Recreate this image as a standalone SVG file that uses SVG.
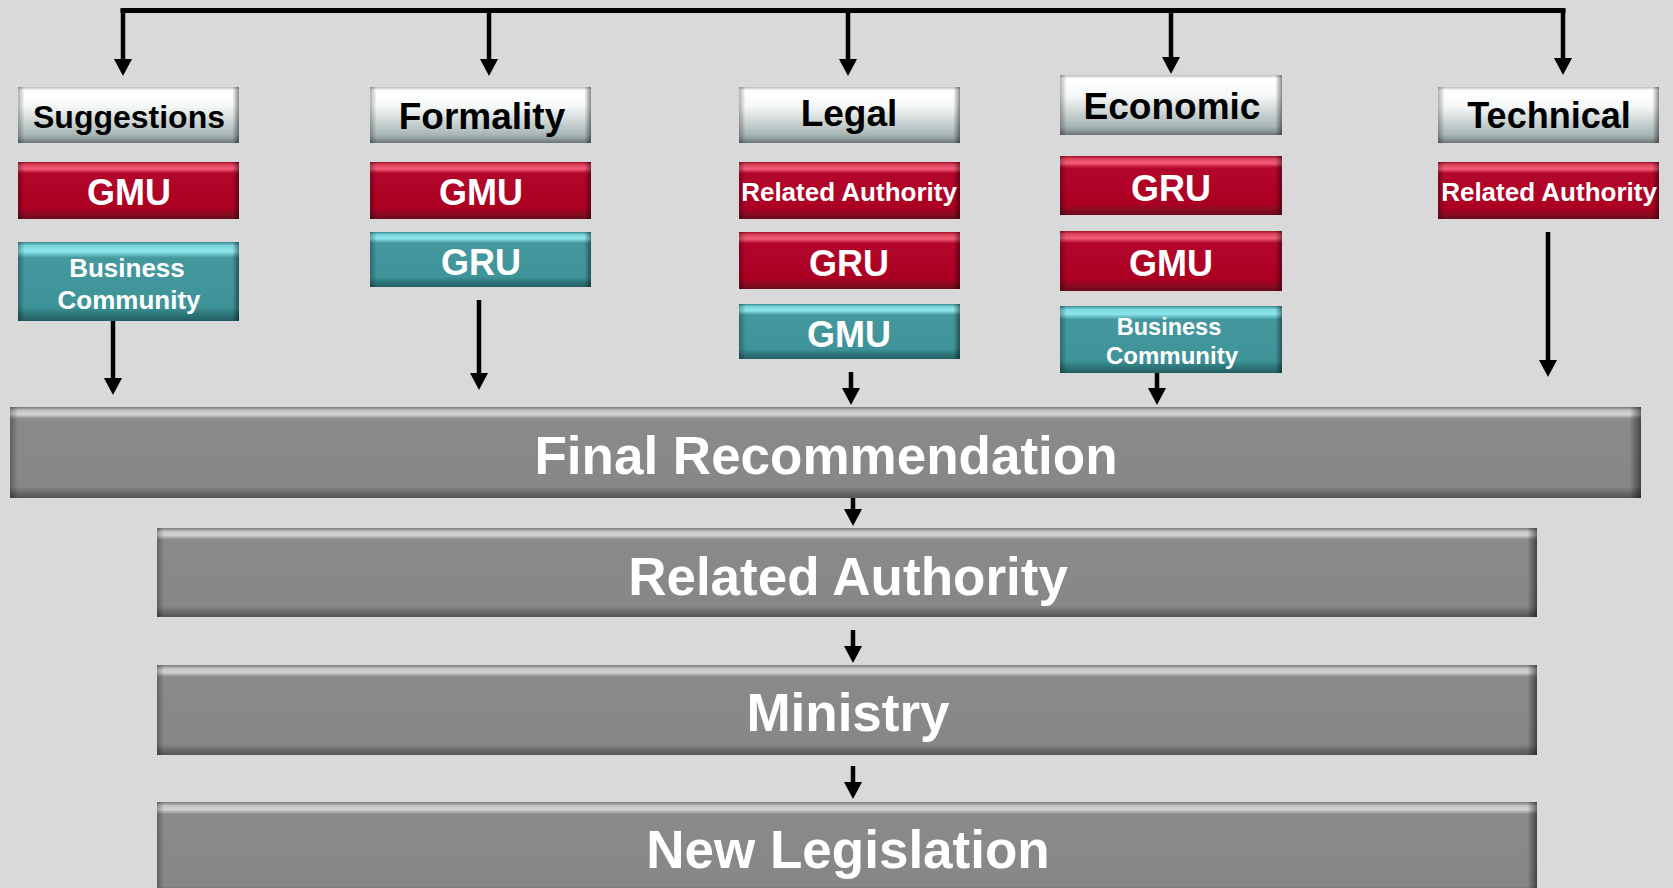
<svg xmlns="http://www.w3.org/2000/svg" width="1673" height="888" viewBox="0 0 1673 888">
<defs>
<style>
.hd{font-family:"Liberation Sans",Arial,sans-serif;font-weight:bold;fill:#000;text-anchor:middle}
.wt{font-family:"Liberation Sans",Arial,sans-serif;font-weight:bold;fill:#fff;text-anchor:middle}
.big{font-family:"Liberation Sans",Arial,sans-serif;font-weight:bold;fill:#fff;text-anchor:middle;font-size:53px}
.w{fill:url(#gWhite)} .r{fill:url(#gRed)} .t{fill:url(#gTeal)} .g{fill:url(#gGray)}
.es{fill:url(#gEdgeS)} .el{fill:url(#gEdgeL)}
.ln{fill:none;stroke:#000;stroke-width:5}
.ar{fill:none;stroke:#000;stroke-width:4.5;marker-end:url(#ah)}
</style>
<linearGradient id="gWhite" x1="0" y1="0" x2="0" y2="1">
<stop offset="0" stop-color="#B8BEBE"/><stop offset="0.06" stop-color="#FFFFFF"/><stop offset="0.35" stop-color="#F6F8F8"/><stop offset="0.85" stop-color="#A9B6B6"/><stop offset="0.93" stop-color="#8E9A9A"/><stop offset="1" stop-color="#6A7474"/>
</linearGradient>
<linearGradient id="gRed" x1="0" y1="0" x2="0" y2="1">
<stop offset="0" stop-color="#9A1028"/><stop offset="0.05" stop-color="#E0445E"/><stop offset="0.12" stop-color="#F45E78"/><stop offset="0.2" stop-color="#B3062C"/><stop offset="0.82" stop-color="#AC0022"/><stop offset="0.9" stop-color="#8C0A22"/><stop offset="1" stop-color="#6A0A1A"/>
</linearGradient>
<linearGradient id="gTeal" x1="0" y1="0" x2="0" y2="1">
<stop offset="0" stop-color="#3A8A8E"/><stop offset="0.05" stop-color="#7AD8DE"/><stop offset="0.12" stop-color="#8CE6EB"/><stop offset="0.2" stop-color="#44989D"/><stop offset="0.82" stop-color="#3F9499"/><stop offset="0.9" stop-color="#2F7A7E"/><stop offset="1" stop-color="#245E62"/>
</linearGradient>
<linearGradient id="gGray" x1="0" y1="0" x2="0" y2="1">
<stop offset="0" stop-color="#7A7A7A"/><stop offset="0.04" stop-color="#C4C4C4"/><stop offset="0.08" stop-color="#D4D4D4"/><stop offset="0.13" stop-color="#8A8A8A"/><stop offset="0.88" stop-color="#878787"/><stop offset="0.94" stop-color="#6A6A6A"/><stop offset="1" stop-color="#555555"/>
</linearGradient>
<linearGradient id="gEdgeS" x1="0" y1="0" x2="1" y2="0">
<stop offset="0" stop-color="#000" stop-opacity="0.3"/><stop offset="0.03" stop-color="#000" stop-opacity="0"/><stop offset="0.97" stop-color="#000" stop-opacity="0"/><stop offset="1" stop-color="#000" stop-opacity="0.45"/>
</linearGradient>
<linearGradient id="gEdgeL" x1="0" y1="0" x2="1" y2="0">
<stop offset="0" stop-color="#000" stop-opacity="0.3"/><stop offset="0.005" stop-color="#000" stop-opacity="0"/><stop offset="0.993" stop-color="#000" stop-opacity="0"/><stop offset="1" stop-color="#000" stop-opacity="0.5"/>
</linearGradient>
<marker id="ah" viewBox="0 0 17 18" refX="8" refY="9" markerWidth="17" markerHeight="18" markerUnits="userSpaceOnUse" orient="auto">
<path d="M0,0 L17,9 L0,18 z" fill="#000"/>
</marker>
</defs>
<rect width="1673" height="888" fill="#D9D9D9"/>

<g id="connectors">
<path class="ln" d="M120.5 10.5 H1565.5"/>
<path class="ar" d="M123 9 V67"/>
<path class="ar" d="M489 9 V67"/>
<path class="ar" d="M848 9 V67"/>
<path class="ar" d="M1171 9 V65"/>
<path class="ar" d="M1563 9 V66"/>
<path class="ar" d="M113 321 V386"/>
<path class="ar" d="M479 300 V381"/>
<path class="ar" d="M851 372 V396"/>
<path class="ar" d="M1157 373 V396"/>
<path class="ar" d="M1548 232 V368"/>
<path class="ar" d="M853 492 V517"/>
<path class="ar" d="M853 630 V654"/>
<path class="ar" d="M853 766 V790"/>
</g>

<g id="suggestions">
<rect class="w" x="18" y="87" width="221" height="56"/><rect class="es" x="18" y="87" width="221" height="56"/>
<text class="hd" x="129" y="128" font-size="32">Suggestions</text>
</g>
<g id="suggestions-gmu">
<rect class="r" x="18" y="162" width="221" height="57"/><rect class="es" x="18" y="162" width="221" height="57"/>
<text class="wt" x="129" y="205" font-size="36">GMU</text>
</g>
<g id="suggestions-business">
<rect class="t" x="18" y="242" width="221" height="79"/><rect class="es" x="18" y="242" width="221" height="79"/>
<text class="wt" x="127" y="277" font-size="26">Business</text>
<text class="wt" x="129" y="309" font-size="26">Community</text>
</g>

<g id="formality">
<rect class="w" x="370" y="87" width="221" height="56"/><rect class="es" x="370" y="87" width="221" height="56"/>
<text class="hd" x="482" y="129" font-size="37">Formality</text>
</g>
<g id="formality-gmu">
<rect class="r" x="370" y="162" width="221" height="57"/><rect class="es" x="370" y="162" width="221" height="57"/>
<text class="wt" x="481" y="205" font-size="36">GMU</text>
</g>
<g id="formality-gru">
<rect class="t" x="370" y="232" width="221" height="55"/><rect class="es" x="370" y="232" width="221" height="55"/>
<text class="wt" x="481" y="275" font-size="36">GRU</text>
</g>

<g id="legal">
<rect class="w" x="739" y="87" width="221" height="56"/><rect class="es" x="739" y="87" width="221" height="56"/>
<text class="hd" x="849" y="126" font-size="37">Legal</text>
</g>
<g id="legal-ra">
<rect class="r" x="739" y="162" width="221" height="57"/><rect class="es" x="739" y="162" width="221" height="57"/>
<text class="wt" x="849" y="201" font-size="26">Related Authority</text>
</g>
<g id="legal-gru">
<rect class="r" x="739" y="232" width="221" height="57"/><rect class="es" x="739" y="232" width="221" height="57"/>
<text class="wt" x="849" y="276" font-size="36">GRU</text>
</g>
<g id="legal-gmu">
<rect class="t" x="739" y="304" width="221" height="55"/><rect class="es" x="739" y="304" width="221" height="55"/>
<text class="wt" x="849" y="347" font-size="36">GMU</text>
</g>

<g id="economic">
<rect class="w" x="1060" y="75" width="222" height="60"/><rect class="es" x="1060" y="75" width="222" height="60"/>
<text class="hd" x="1172" y="119" font-size="37">Economic</text>
</g>
<g id="economic-gru">
<rect class="r" x="1060" y="156" width="222" height="59"/><rect class="es" x="1060" y="156" width="222" height="59"/>
<text class="wt" x="1171" y="201" font-size="36">GRU</text>
</g>
<g id="economic-gmu">
<rect class="r" x="1060" y="231" width="222" height="60"/><rect class="es" x="1060" y="231" width="222" height="60"/>
<text class="wt" x="1171" y="276" font-size="36">GMU</text>
</g>
<g id="economic-business">
<rect class="t" x="1060" y="306" width="222" height="67"/><rect class="es" x="1060" y="306" width="222" height="67"/>
<text class="wt" x="1169" y="335" font-size="23.5">Business</text>
<text class="wt" x="1172" y="364" font-size="24">Community</text>
</g>

<g id="technical">
<rect class="w" x="1438" y="87" width="221" height="56"/><rect class="es" x="1438" y="87" width="221" height="56"/>
<text class="hd" x="1549" y="128" font-size="36">Technical</text>
</g>
<g id="technical-ra">
<rect class="r" x="1438" y="162" width="221" height="57"/><rect class="es" x="1438" y="162" width="221" height="57"/>
<text class="wt" x="1549" y="201" font-size="26">Related Authority</text>
</g>

<g id="final-recommendation">
<rect class="g" x="10" y="407" width="1631" height="91"/><rect class="el" x="10" y="407" width="1631" height="91"/>
<text class="big" x="826" y="474">Final Recommendation</text>
</g>
<g id="related-authority">
<rect class="g" x="157" y="528" width="1380" height="89"/><rect class="el" x="157" y="528" width="1380" height="89"/>
<text class="big" x="848" y="595">Related Authority</text>
</g>
<g id="ministry">
<rect class="g" x="157" y="665" width="1380" height="90"/><rect class="el" x="157" y="665" width="1380" height="90"/>
<text class="big" x="848" y="731">Ministry</text>
</g>
<g id="new-legislation">
<rect class="g" x="157" y="802" width="1380" height="95"/><rect class="el" x="157" y="802" width="1380" height="95"/>
<text class="big" x="848" y="868">New Legislation</text>
</g>
</svg>
